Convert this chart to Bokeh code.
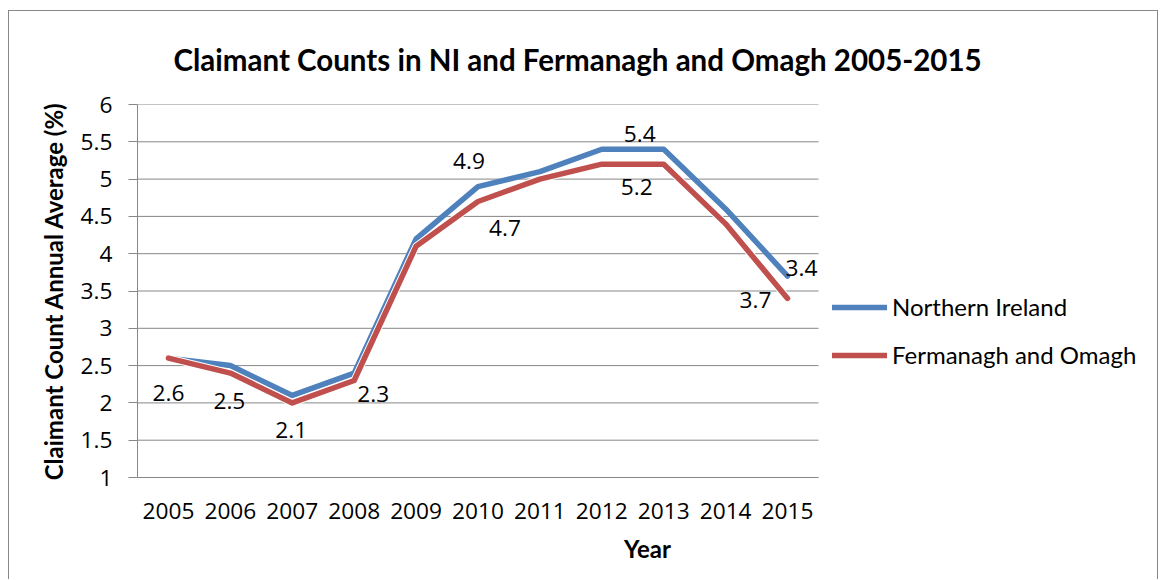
from bokeh.plotting import figure
from bokeh.models import (Range1d, FixedTicker, NumeralTickFormatter, Legend,
                          LegendItem, ColumnDataSource)
from bokeh.core.properties import value
from bokeh.embed import file_html
from bokeh.resources import INLINE

# ---- data ----
years = [2005, 2006, 2007, 2008, 2009, 2010, 2011, 2012, 2013, 2014, 2015]
northern_ireland = [2.6, 2.5, 2.1, 2.4, 4.2, 4.9, 5.1, 5.4, 5.4, 4.6, 3.7]
fermanagh_omagh = [2.6, 2.4, 2.0, 2.3, 4.1, 4.7, 5.0, 5.2, 5.2, 4.4, 3.4]
y_ticks = [1, 1.5, 2, 2.5, 3, 3.5, 4, 4.5, 5, 5.5, 6]
label_text = ["2.6", "2.5", "2.1", "2.3", "4.9", "4.7", "5.4", "5.2", "3.4", "3.7"]
label_year = [2005, 2006, 2007, 2008, 2010, 2010, 2013, 2013, 2015, 2015]
label_value = [2.6, 2.5, 2.1, 2.3, 4.9, 4.7, 5.4, 5.2, 3.4, 3.7]

# ---- style: label pixel offsets ----
label_dx = [0, -1, -1, 19, -9, 27, -24, -27, 14, -32]
label_dy = [35, 35, 35, 13, -26, 27, -15, 23, -30, 24]

FONT = "Lato"
NUMFONT = "Open Sans"
GRID = "#878787"
BLUE = "#4F81BD"
RED = "#C0504D"

# layout geometry (pixels)
CANVAS_W, CANVAS_H = 1148, 568
LEFT, TOP = 128, 93
PLOT_W, PLOT_H = 681, 373          # width of the category area
FRAME_W = CANVAS_W - LEFT          # frame extends under the legend
FRAME_H = PLOT_H
BOTTOM = CANVAS_H - TOP - FRAME_H

x_lo = years[0] - 0.5
x_hi = years[-1] + 0.5
px_per_year = PLOT_W / (x_hi - x_lo)
x_end = x_lo + FRAME_W / px_per_year

p = figure(frame_width=FRAME_W, frame_height=FRAME_H, output_backend="svg",
           toolbar_location=None,
           x_range=Range1d(x_lo, x_end), y_range=Range1d(1, 6),
           min_border_left=LEFT, min_border_right=0, min_border_top=TOP,
           min_border_bottom=BOTTOM)
p.styles = {"margin-left": "8px", "margin-top": "10px",
            "border-left": "1px solid #888888", "border-top": "1px solid #888888",
            "border-right": "1px solid #888888"}
p.outline_line_color = None
p.background_fill_color = "white"
p.border_fill_color = "white"

# title
p.title.text = "Claimant Counts in NI and Fermanagh and Omagh 2005-2015"
p.title.text_font = FONT
p.title.text_font_style = "bold"
p.title.text_font_size = "29.5px"
p.title.align = "left"
p.title.offset = 36
p.title.standoff = 56
p.title.text_color = "black"

# gridlines limited to the category area
p.xgrid.grid_line_color = None
p.ygrid.grid_line_color = None
p.segment(x0=[x_lo] * len(y_ticks), x1=[x_hi] * len(y_ticks), y0=y_ticks,
          y1=y_ticks, line_color=GRID, line_width=1)

# axes
p.xaxis.ticker = FixedTicker(ticks=years)
p.xaxis.bounds = (x_lo, x_hi)
p.xaxis.major_tick_out = 0
p.xaxis.major_tick_in = 0
p.xaxis.minor_tick_out = 0
p.xaxis.minor_tick_in = 0
p.xaxis.axis_line_color = GRID
p.xaxis.major_label_text_font = NUMFONT
p.xaxis.major_label_text_font_size = "22.7px"
p.xaxis.major_label_text_color = "black"
p.xaxis.major_label_standoff = 25
p.xaxis.axis_label = "Year"
p.xaxis.axis_label_text_font = FONT
p.xaxis.axis_label_text_font_style = "bold"
p.xaxis.axis_label_text_font_size = "24px"
p.xaxis.axis_label_text_color = "black"
p.xaxis.axis_label_standoff = 12

p.yaxis.ticker = FixedTicker(ticks=y_ticks)
p.yaxis.formatter = NumeralTickFormatter(format="0.[0]")
p.yaxis.major_tick_out = 9
p.yaxis.major_tick_in = 0
p.yaxis.minor_tick_out = 0
p.yaxis.minor_tick_in = 0
p.yaxis.major_tick_line_color = GRID
p.yaxis.axis_line_color = GRID
p.yaxis.major_label_text_font = NUMFONT
p.yaxis.major_label_text_font_size = "22.7px"
p.yaxis.major_label_text_color = "black"
p.yaxis.major_label_standoff = 16
p.yaxis.axis_label = "Claimant Count Annual Average (%)"
p.yaxis.axis_label_text_font = FONT
p.yaxis.axis_label_text_font_style = "bold"
p.yaxis.axis_label_text_font_size = "24px"
p.yaxis.axis_label_text_color = "black"
p.yaxis.axis_label_standoff = 10

# series
src = ColumnDataSource(dict(year=years, ni=northern_ireland, fo=fermanagh_omagh))
r_ni = p.line("year", "ni", source=src, line_color=BLUE, line_width=5.5,
              line_join="round", line_cap="round")
p.line("year", "fo", source=src, line_color="white", line_width=7.5,
       line_join="round", line_cap="round")
r_fo = p.line("year", "fo", source=src, line_color=RED, line_width=5.5,
              line_join="round", line_cap="round")

# data labels
lsrc = ColumnDataSource(dict(x=label_year, y=label_value, text=label_text,
                             dx=label_dx, dy=label_dy))
p.text(x="x", y="y", text="text", source=lsrc, x_offset="dx", y_offset="dy",
       text_font=value(NUMFONT), text_font_size="22.7px", text_color="black",
       text_align="center", text_baseline="middle")

# legend
legend = Legend(items=[LegendItem(label="Northern Ireland", renderers=[r_ni]),
                       LegendItem(label="Fermanagh and Omagh", renderers=[r_fo])],
                location=(695, 108))
legend.label_text_font = FONT
legend.label_text_font_size = "24px"
legend.label_text_color = "black"
legend.glyph_width = 55
legend.glyph_height = 24
legend.label_height = 24
legend.spacing = 19
legend.padding = 0
legend.margin = 0
legend.label_standoff = 5
legend.border_line_color = None
legend.background_fill_alpha = 0
p.add_layout(legend, "center")

open("out.html", "w").write(file_html(p, INLINE))
